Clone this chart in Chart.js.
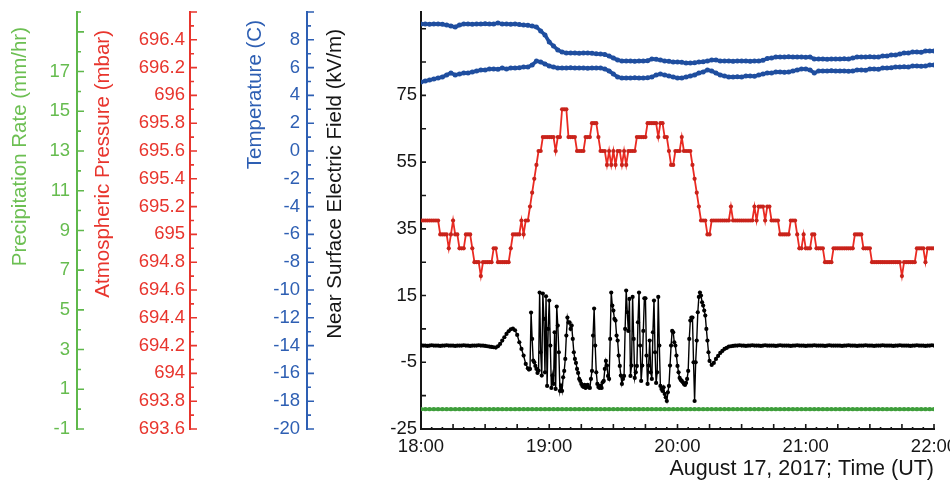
<!DOCTYPE html>
<html lang="en">
<head>
<meta charset="utf-8">
<title>Surface observations, 17 August 2017</title>
<script src="https://cdn.jsdelivr.net/npm/chart.js@4.4.1/dist/chart.umd.min.js"></script>
<style>
  html, body { margin: 0; padding: 0; background: #ffffff; }
  canvas { display: block; }
</style>
</head>
<body>
<canvas id="obs" width="950" height="485"></canvas>
<script>
// ---------------------------------------------------------------
// Sample times, minutes after 18:00 UT
// ---------------------------------------------------------------
const minutes1 = [];
for (let m = 0; m <= 240; m += 1) minutes1.push(m);
const minutes2 = [];
for (let m = 0; m <= 240; m += 2) minutes2.push(m);
// Field mill: 30-second samples through the disturbed period 18:50-20:15
const fieldMinutes = [];
for (let m = 0; m < 50; m += 1) fieldMinutes.push(m);
for (let m = 50; m <= 135; m += 0.5) fieldMinutes.push(m);
for (let m = 136; m <= 240; m += 1) fieldMinutes.push(m);

// Near surface electric field, kV/m
const electricField = [
  // 18:00-18:49, 1-minute
  0.1, 0.0, 0.0, -0.1, 0.0, 0.1, 0.0, 0.0, 0.0, -0.1,
  0.0, 0.0, 0.1, 0.0, 0.0, 0.0, -0.1, 0.0, 0.0, 0.0,
  0.1, 0.0, 0.0, -0.1, 0.0, 0.0, 0.0, 0.1, 0.0, 0.0,
  -0.1, -0.2, -0.3, -0.4, -0.5, -0.6, -0.2, 0.5, 1.5, 2.5,
  3.5, 4.3, 4.9, 5.1, 4.6, 3.2, 1.0, -1.0, -3.0, -5.5,
  // 18:50-20:15, 30-second
  -6.8, -7.2, -7.0, 9.9, 2.0, -4.5, -5.0, -6.1, -7.0, -8.2,
  -7.5, 15.9, -2.0, -9.0, 15.6, 8.0, -8.0, 14.8, -12.1, 5.0,
  13.5, 0.0, -12.7, -9.0, -11.5, 4.0, -13.0, 11.7, 6.0, -2.0,
  -13.6, -12.0, -13.6, -9.5, -7.6, -4.0, 3.0, 8.4, 6.9, 7.0,
  5.0, 6.0, 2.0, -2.0, -4.0, -5.2, -7.0, -8.2, -10.0, -10.6,
  -11.5, -12.1, -12.4, -11.8, -12.7, -12.0, -11.8, -12.5, -12.7, -10.0,
  -7.6, 3.0, 11.1, 0.0, -8.0, -11.5, -12.4, -12.7, -12.0, -12.7,
  -11.0, -10.6, -7.0, -4.6, -6.0, -9.1, -10.0, 2.0, 15.9, 12.0,
  10.5, 8.0, 7.5, 3.0, 1.5, -3.0, -6.1, -9.0, -11.5, -10.0,
  -9.1, 5.0, 16.5, 10.0, 4.4, 14.0, -9.1, -6.0, 14.6, 2.0,
  -9.7, -8.0, -6.1, 7.0, 15.9, 0.0, -10.6, -6.0, 4.4, 14.2,
  14.2, -3.0, -11.5, -6.0, 1.5, -8.0, -10.0, 4.0, 13.5, -2.0,
  -11.2, -8.0, 14.6, 0.0, -12.1, -13.0, -13.6, -12.5, -14.5, -15.5,
  -16.6, -14.0, -12.1, -6.0, 0.0, 4.4, 4.0, 1.0, 0.0, -3.0,
  -6.1, -8.0, -9.7, -10.3, -10.6, -11.0, -11.5, -11.8, -11.2, -10.0,
  -7.6, 2.0, 7.5, 8.4, 8.4, -5.0, -16.6, -5.0, 1.5, 10.0,
  14.6, 15.9, 15.0, 13.0, 12.0, 10.5, 9.0, 5.0, 1.5, -2.0,
  -4.6,
  // 20:16-22:00, 1-minute
  -5.8, -5.2, -4.0, -3.1,
  -2.2, -1.6, -1.0, -0.7, -0.3, -0.2, -0.1, 0.0, 0.0, 0.1,
  0.0, 0.0, -0.1, 0.0, 0.0, 0.1, 0.0, 0.0, 0.0, -0.1,
  0.0, 0.1, 0.0, 0.0, 0.0, 0.0, -0.1, 0.0, 0.1, 0.0,
  0.0, 0.0, 0.0, -0.1, 0.0, 0.0, 0.1, 0.0, 0.0, 0.0,
  -0.1, 0.0, 0.0, 0.0, 0.1, 0.0, 0.0, 0.0, 0.0, -0.1,
  0.0, 0.1, 0.0, 0.0, 0.0, 0.0, 0.0, -0.1, 0.0, 0.0,
  0.1, 0.0, 0.0, 0.0, -0.1, 0.0, 0.0, 0.0, 0.1, 0.0,
  0.0, 0.0, -0.1, 0.0, 0.0, 0.0, 0.1, 0.0, 0.0, 0.0,
  0.0, -0.1, 0.0, 0.0, 0.1, 0.0, 0.0, 0.0, 0.0, -0.1,
  0.0, 0.0, 0.1, 0.0, 0.0, 0.0, -0.1, 0.0, 0.0, 0.1,
  0.0
];

// Atmospheric pressure, mbar (1-minute samples)
const pressure = [
  695.1, 695.1, 695.1, 695.1, 695.1, 695.1, 695.1, 695.1, 695.1, 695.0,
  695.0, 695.0, 695.0, 694.9, 695.0, 695.1, 695.0, 695.0, 694.9, 694.9,
  694.9, 695.0, 695.0, 695.0, 694.9, 694.8, 694.8, 694.8, 694.7, 694.8,
  694.8, 694.8, 694.8, 694.8, 694.9, 694.9, 694.8, 694.8, 694.8, 694.8,
  694.8, 694.8, 694.9, 695.0, 695.0, 695.0, 695.0, 695.1, 695.0, 695.1,
  695.1, 695.2, 695.3, 695.4, 695.5, 695.6, 695.6, 695.7, 695.7, 695.7,
  695.7, 695.7, 695.7, 695.6, 695.7, 695.7, 695.9, 695.9, 695.9, 695.7,
  695.7, 695.7, 695.7, 695.6, 695.6, 695.6, 695.6, 695.7, 695.7, 695.7,
  695.8, 695.8, 695.8, 695.7, 695.6, 695.6, 695.6, 695.5, 695.6, 695.5,
  695.6, 695.5, 695.6, 695.6, 695.5, 695.6, 695.5, 695.6, 695.6, 695.6,
  695.6, 695.7, 695.7, 695.7, 695.7, 695.7, 695.8, 695.8, 695.8, 695.8,
  695.8, 695.7, 695.8, 695.8, 695.7, 695.7, 695.6, 695.5, 695.5, 695.6,
  695.6, 695.6, 695.7, 695.6, 695.6, 695.6, 695.6, 695.5, 695.4, 695.3,
  695.2, 695.1, 695.1, 695.1, 695.0, 695.0, 695.1, 695.1, 695.1, 695.1,
  695.1, 695.1, 695.1, 695.1, 695.1, 695.2, 695.1, 695.1, 695.1, 695.1,
  695.1, 695.1, 695.1, 695.1, 695.1, 695.1, 695.2, 695.1, 695.2, 695.2,
  695.2, 695.1, 695.2, 695.2, 695.1, 695.1, 695.1, 695.1, 695.0, 695.0,
  695.0, 695.0, 695.0, 695.1, 695.1, 695.1, 695.0, 694.9, 694.9, 695.0,
  694.9, 694.9, 694.9, 695.0, 695.0, 694.9, 694.9, 694.9, 694.9, 694.8,
  694.8, 694.8, 694.8, 694.9, 694.9, 694.9, 694.9, 694.9, 694.9, 694.9,
  694.9, 694.9, 694.9, 695.0, 695.0, 695.0, 695.0, 694.9, 694.9, 694.9,
  694.9, 694.8, 694.8, 694.8, 694.8, 694.8, 694.8, 694.8, 694.8, 694.8,
  694.8, 694.8, 694.8, 694.8, 694.8, 694.7, 694.8, 694.8, 694.8, 694.8,
  694.8, 694.8, 694.9, 694.9, 694.9, 694.9, 694.8, 694.9, 694.9, 694.9,
  694.9
];

// Temperature, C (2-minute samples): upper and lower traces
const temperatureUpper = [
  9.14, 9.14, 9.12, 9.14, 9.14, 9.12, 9.06, 8.99, 8.92, 9.06,
  9.14, 9.14, 9.12, 9.14, 9.14, 9.16, 9.14, 9.14, 9.21, 9.14,
  9.14, 9.12, 9.14, 9.10, 9.06, 9.04, 8.99, 8.92, 8.63, 8.35,
  7.84, 7.55, 7.27, 7.12, 7.05, 7.05, 7.05, 7.03, 7.05, 7.05,
  7.03, 7.00, 6.98, 6.95, 6.83, 6.69, 6.55, 6.47, 6.47, 6.47,
  6.45, 6.47, 6.47, 6.50, 6.62, 6.60, 6.55, 6.47, 6.45, 6.40,
  6.40, 6.38, 6.33, 6.33, 6.35, 6.40, 6.42, 6.47, 6.55, 6.55,
  6.47, 6.47, 6.47, 6.45, 6.47, 6.47, 6.47, 6.45, 6.47, 6.47,
  6.52, 6.66, 6.69, 6.76, 6.76, 6.76, 6.78, 6.76, 6.76, 6.76,
  6.74, 6.76, 6.62, 6.62, 6.62, 6.60, 6.62, 6.62, 6.62, 6.64,
  6.62, 6.69, 6.76, 6.76, 6.76, 6.78, 6.76, 6.76, 6.83, 6.83,
  6.91, 6.91, 6.98, 7.05, 7.05, 7.12, 7.12, 7.10, 7.19, 7.19,
  7.19
];
const temperatureLower = [
  4.96, 5.04, 5.11, 5.18, 5.25, 5.32, 5.47, 5.61, 5.47, 5.54,
  5.61, 5.61, 5.68, 5.76, 5.83, 5.83, 5.90, 5.90, 5.88, 5.97,
  5.90, 5.97, 5.97, 5.99, 6.04, 6.04, 6.19, 6.47, 6.40, 6.26,
  6.12, 6.04, 5.97, 5.97, 5.97, 5.99, 5.97, 5.97, 5.97, 5.95,
  5.97, 5.97, 5.97, 5.90, 5.76, 5.54, 5.32, 5.25, 5.25, 5.25,
  5.27, 5.25, 5.25, 5.27, 5.32, 5.47, 5.54, 5.47, 5.40, 5.32,
  5.25, 5.25, 5.32, 5.40, 5.47, 5.61, 5.68, 5.83, 5.76, 5.61,
  5.47, 5.40, 5.32, 5.32, 5.34, 5.32, 5.40, 5.40, 5.38, 5.47,
  5.54, 5.61, 5.61, 5.68, 5.68, 5.66, 5.68, 5.76, 5.83, 5.90,
  5.90, 5.83, 5.61, 5.76, 5.76, 5.76, 5.78, 5.76, 5.76, 5.76,
  5.74, 5.76, 5.83, 5.83, 5.81, 5.90, 5.90, 5.88, 5.97, 5.97,
  5.99, 6.04, 6.04, 6.06, 6.04, 6.12, 6.12, 6.10, 6.12, 6.19,
  6.19
];

// Precipitation rate, mm/hr (2-minute samples)
const precipitation = [
  0, 0, 0, 0, 0, 0, 0, 0, 0, 0,
  0, 0, 0, 0, 0, 0, 0, 0, 0, 0,
  0, 0, 0, 0, 0, 0, 0, 0, 0, 0,
  0, 0, 0, 0, 0, 0, 0, 0, 0, 0,
  0, 0, 0, 0, 0, 0, 0, 0, 0, 0,
  0, 0, 0, 0, 0, 0, 0, 0, 0, 0,
  0, 0, 0, 0, 0, 0, 0, 0, 0, 0,
  0, 0, 0, 0, 0, 0, 0, 0, 0, 0,
  0, 0, 0, 0, 0, 0, 0, 0, 0, 0,
  0, 0, 0, 0, 0, 0, 0, 0, 0, 0,
  0, 0, 0, 0, 0, 0, 0, 0, 0, 0,
  0, 0, 0, 0, 0, 0, 0, 0, 0, 0,
  0
];

// ---------------------------------------------------------------
// Tick positions and labels
// ---------------------------------------------------------------
const timeTicks = [];
for (let m = 0; m <= 240; m += 5) timeTicks.push(m);
const hourLabels = ['18:00', '19:00', '20:00', '21:00', '22:00'];

const fieldTicks = [-25, -15, -5, 5, 15, 25, 35, 45, 55, 65, 75, 85, 95];
const fieldLabels = [-25, -5, 15, 35, 55, 75];

const tempTicks = [-20, -19, -18, -17, -16, -15, -14, -13, -12, -11, -10, -9, -8, -7, -6, -5,
  -4, -3, -2, -1, 0, 1, 2, 3, 4, 5, 6, 7, 8, 9, 10];
const tempLabels = [-20, -18, -16, -14, -12, -10, -8, -6, -4, -2, 0, 2, 4, 6, 8];

const pressureTicks = [693.6, 693.7, 693.8, 693.9, 694.0, 694.1, 694.2, 694.3, 694.4, 694.5,
  694.6, 694.7, 694.8, 694.9, 695.0, 695.1, 695.2, 695.3, 695.4, 695.5, 695.6, 695.7,
  695.8, 695.9, 696.0, 696.1, 696.2, 696.3, 696.4, 696.5, 696.6];
const pressureLabels = [693.6, 693.8, 694.0, 694.2, 694.4, 694.6, 694.8, 695.0, 695.2,
  695.4, 695.6, 695.8, 696.0, 696.2, 696.4];

const precipTicks = [-1, 0, 1, 2, 3, 4, 5, 6, 7, 8, 9, 10, 11, 12, 13, 14, 15, 16, 17, 18, 19, 20];
const precipLabels = [-1, 1, 3, 5, 7, 9, 11, 13, 15, 17];

// ---------------------------------------------------------------
// Styling helpers
// ---------------------------------------------------------------
const FONT = "'Liberation Sans', Arial, Helvetica, sans-serif";
const INK = '#161616';
const GREEN = '#5fb84b';
const RED = '#e8352d';
const BLUE = '#2e5fb3';
const TICK_SIZE = 18.5;
const TITLE_SIZE = 20.5;

const toPoints = (xs, ys) => ys.map((y, i) => ({ x: xs[i], y }));
const useTicks = values => scale => { scale.ticks = values.map(v => ({ value: v })); };
// Fixed box width; no extra room reserved for half-labels at the ends
const fixedWidth = w => scale => { scale.width = w; scale.paddingTop = 0; scale.paddingBottom = 0; };
const labelsFrom = list => v => (list.some(l => Math.abs(l - v) < 1e-6) ? String(+v.toFixed(1)) : '');

function leftAxis(opts) {
  return {
    type: 'linear',
    position: 'left',
    weight: opts.weight,
    min: opts.min,
    max: opts.max,
    afterBuildTicks: useTicks(opts.ticks),
    afterFit: fixedWidth(opts.width),
    grid: { display: false, drawTicks: false },
    border: { display: true, color: opts.color, width: 2 },
    ticks: {
      autoSkip: false,
      padding: opts.padding,
      color: opts.labelColor || opts.color,
      font: { family: FONT, size: TICK_SIZE },
      callback: labelsFrom(opts.labels)
    }
  };
}

// Rotated axis titles, anchored to the top of each left axis
const sideTitleSpecs = [
  { scale: 'yRain', text: 'Precipitation Rate (mm/hr)', color: '#6cbf52', dx: 20, dy: 15 },
  { scale: 'yPres', text: 'Atmospheric Pressure (mbar)', color: RED, dx: 26, dy: 18 },
  { scale: 'yTemp', text: 'Temperature (C)', color: BLUE, dx: 65, dy: 8 },
  { scale: 'yField', text: 'Near Surface Electric Field (kV/m)', color: INK, dx: 28, dy: 17 }
];
const sideTitles = {
  id: 'sideTitles',
  afterDraw(chart) {
    const ctx = chart.ctx;
    for (const t of sideTitleSpecs) {
      const s = chart.scales[t.scale];
      ctx.save();
      ctx.translate(s.left + t.dx, s.top + t.dy);
      ctx.rotate(-Math.PI / 2);
      ctx.textAlign = 'right';
      ctx.textBaseline = 'middle';
      ctx.font = TITLE_SIZE + 'px ' + FONT;
      ctx.fillStyle = t.color;
      ctx.fillText(t.text, 0, 0);
      ctx.restore();
    }
  }
};

// Tick marks pointing towards the plot, long on labelled values
const tickMarkSpecs = {
  x: { color: INK, len: v => (v % 15 === 0 ? 5 : 2) },
  yField: { color: INK, len: () => 5 },
  yTemp: { color: BLUE, len: v => (Math.abs(v) % 2 === 0 ? 7 : 4) },
  yPres: { color: RED, len: v => (Math.round((v - 693.6) * 10) % 2 === 0 ? 7 : 4) },
  yRain: { color: GREEN, len: v => (Math.abs(v) % 2 === 1 ? 7 : 4) }
};
const tickMarks = {
  id: 'tickMarks',
  afterDraw(chart) {
    const ctx = chart.ctx;
    ctx.save();
    ctx.lineWidth = 1.6;
    for (const [id, spec] of Object.entries(tickMarkSpecs)) {
      const s = chart.scales[id];
      ctx.strokeStyle = spec.color;
      ctx.beginPath();
      for (const t of s.ticks) {
        const p = s.getPixelForValue(t.value);
        const len = spec.len(t.value);
        if (s.isHorizontal()) {
          ctx.moveTo(p, s.top);
          ctx.lineTo(p, s.top - len);
        } else {
          ctx.moveTo(s.right, p);
          ctx.lineTo(s.right + len, p);
        }
      }
      ctx.stroke();
    }
    ctx.restore();
  }
};

// ---------------------------------------------------------------
// Chart
// ---------------------------------------------------------------
new Chart(document.getElementById('obs'), {
  type: 'line',
  data: {
    datasets: [
      {
        label: 'Electric field',
        data: toPoints(fieldMinutes, electricField),
        yAxisID: 'yField',
        borderColor: '#000000',
        backgroundColor: '#000000',
        borderWidth: 1.4,
        pointRadius: 2.1,
        pointBorderWidth: 0
      },
      {
        label: 'Pressure',
        data: toPoints(minutes1, pressure),
        yAxisID: 'yPres',
        borderColor: '#ea2a22',
        backgroundColor: '#c9231b',
        borderWidth: 1.8,
        pointRadius: 2.1,
        pointBorderWidth: 0
      },
      {
        label: 'Temperature (upper)',
        data: toPoints(minutes2, temperatureUpper),
        yAxisID: 'yTemp',
        borderColor: '#1f4e9f',
        backgroundColor: '#1f4e9f',
        borderWidth: 3.6,
        pointRadius: 2.5,
        pointBorderWidth: 0
      },
      {
        label: 'Temperature (lower)',
        data: toPoints(minutes2, temperatureLower),
        yAxisID: 'yTemp',
        borderColor: '#1f4e9f',
        backgroundColor: '#1f4e9f',
        borderWidth: 3.6,
        pointRadius: 2.5,
        pointBorderWidth: 0
      },
      {
        label: 'Precipitation rate',
        data: toPoints(minutes2, precipitation),
        yAxisID: 'yRain',
        borderColor: '#3e9e3b',
        backgroundColor: '#3e9e3b',
        borderWidth: 3,
        pointRadius: 2.2,
        pointBorderWidth: 0
      }
    ]
  },
  options: {
    responsive: false,
    animation: false,
    events: [],
    layout: { padding: { left: 0, right: 16, top: 12, bottom: 0 } },
    plugins: { legend: { display: false }, tooltip: { enabled: false } },
    scales: {
      x: {
        type: 'linear',
        position: 'bottom',
        min: 0,
        max: 240,
        afterBuildTicks: useTicks(timeTicks),
        afterFit: scale => { scale.height = 56; scale.paddingLeft = 0; scale.paddingRight = 0; },
        grid: { display: false, drawTicks: false },
        border: { display: true, color: INK, width: 2 },
        ticks: {
          autoSkip: false,
          maxRotation: 0,
          padding: 7,
          color: INK,
          font: { family: FONT, size: TICK_SIZE },
          callback: v => (v % 60 === 0 ? hourLabels[v / 60] : '')
        },
        title: {
          display: true,
          text: 'August 17, 2017; Time (UT)',
          align: 'end',
          color: INK,
          font: { family: FONT, size: 21.5 },
          padding: { top: 0, bottom: 3 }
        }
      },
      yRain: leftAxis({ weight: 4, min: -1, max: 20, ticks: precipTicks, labels: precipLabels,
        width: 77, padding: 7, color: GREEN, labelColor: '#66bc4f' }),
      yPres: leftAxis({ weight: 3, min: 693.6, max: 696.6, ticks: pressureTicks, labels: pressureLabels,
        width: 113, padding: 5, color: RED }),
      yTemp: leftAxis({ weight: 2, min: -20, max: 10, ticks: tempTicks, labels: tempLabels,
        width: 117, padding: 7, color: BLUE }),
      yField: leftAxis({ weight: 1, min: -25, max: 100, ticks: fieldTicks, labels: fieldLabels,
        width: 114, padding: 4, color: INK })
    }
  },
  plugins: [tickMarks, sideTitles]
});
</script>
</body>
</html>
